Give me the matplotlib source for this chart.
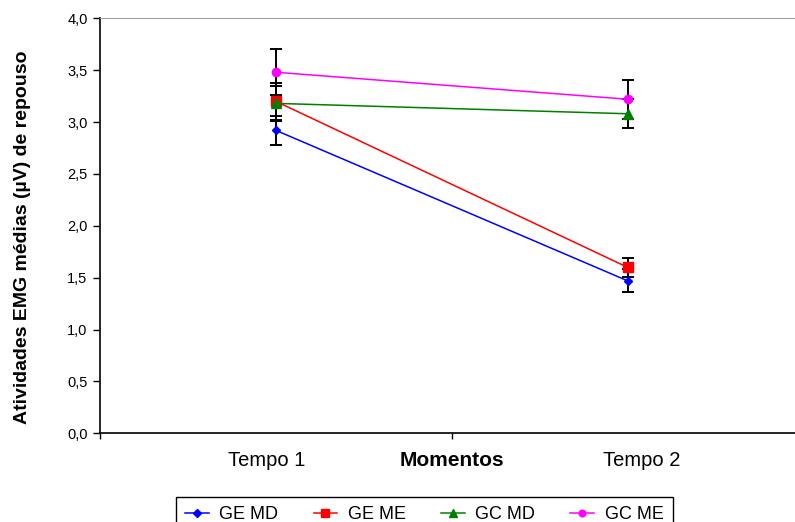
import numpy as np
import matplotlib.pyplot as plt

plt.rcParams['font.family'] = ['Liberation Sans', 'DejaVu Sans']

# data
moments = ['Tempo 1', 'Tempo 2']
series = ['GE MD', 'GE ME', 'GC MD', 'GC ME']
ge_md = [2.92, 1.47]
ge_me = [3.20, 1.60]
gc_md = [3.18, 3.08]
gc_me = [3.48, 3.22]
ge_md_err = [0.14, 0.11]
ge_me_err = [0.18, 0.09]
gc_md_err = [0.17, 0.14]
gc_me_err = [0.22, 0.19]

colors = ['#0000FF', '#FF0000', '#008000', '#FF00FF']
markers = ['D', 's', '^', 'o']
msizes = [4.5, 6.5, 6.5, 6]

fig = plt.figure(figsize=(7.95, 5.22), dpi=100)
ax = fig.add_axes([100 / 795, 1 - 433.3 / 522, 703.4 / 795, 415 / 522])

x = np.arange(len(moments)) + 0.5
values = [ge_md, ge_me, gc_md, gc_me]
errors = [ge_md_err, ge_me_err, gc_md_err, gc_me_err]

# error bars under the lines
for vals, errs in zip(values, errors):
    ax.errorbar(x, vals, yerr=errs, fmt='none', ecolor='black',
                elinewidth=1.4, capsize=4, capthick=1.4, zorder=2)

handles = []
for vals, name, c, m, ms in zip(values, series, colors, markers, msizes):
    h, = ax.plot(x, vals, color=c, lw=1.1, marker=m, markersize=ms,
                 markeredgecolor=c, label=name, zorder=3)
    handles.append(h)

ax.set_xlim(0, 2)
ax.set_ylim(0, 4)
ax.set_yticks(np.arange(0, 4.01, 0.5))
ax.set_yticklabels([f'{v:.1f}'.replace('.', ',') for v in np.arange(0, 4.01, 0.5)],
                   fontsize=10.5)
ax.tick_params(axis='y', direction='out', length=5, width=1, pad=4)

# category boundary ticks, labels sit slightly off the point positions
ax.set_xticks([0, 1, 2])
ax.set_xticklabels([])
ax.set_xticks([0.475, 1.54], minor=True)
ax.set_xticklabels(moments, minor=True, fontsize=14.5)
ax.tick_params(axis='x', which='major', direction='out', length=4, width=1)
ax.tick_params(axis='x', which='minor', length=0, pad=13)

ax.spines['right'].set_visible(False)
ax.spines['top'].set_color('#a0a0a0')
ax.spines['left'].set_linewidth(1.2)
ax.spines['bottom'].set_linewidth(1.2)

ax.text(0.5, -0.065, 'Momentos', transform=ax.transAxes, ha='center', va='center',
        fontsize=15, fontweight='bold')
fig.text(23 / 795, 1 - 237 / 522, 'Atividades EMG médias (µV) de repouso',
         rotation=90, ha='center', va='center', fontsize=14, fontweight='bold')

leg = fig.legend(handles=handles, loc='upper left',
                 bbox_to_anchor=(176 / 795, 1 - 497 / 522), ncol=4,
                 fontsize=13, frameon=True, fancybox=False, framealpha=1,
                 handlelength=1.3, handletextpad=0.6, columnspacing=1.95,
                 borderpad=0.5, borderaxespad=0, markerscale=0.8)
leg.get_frame().set_edgecolor('black')
leg.get_frame().set_linewidth(1)

fig.savefig('out.png', dpi=100)
